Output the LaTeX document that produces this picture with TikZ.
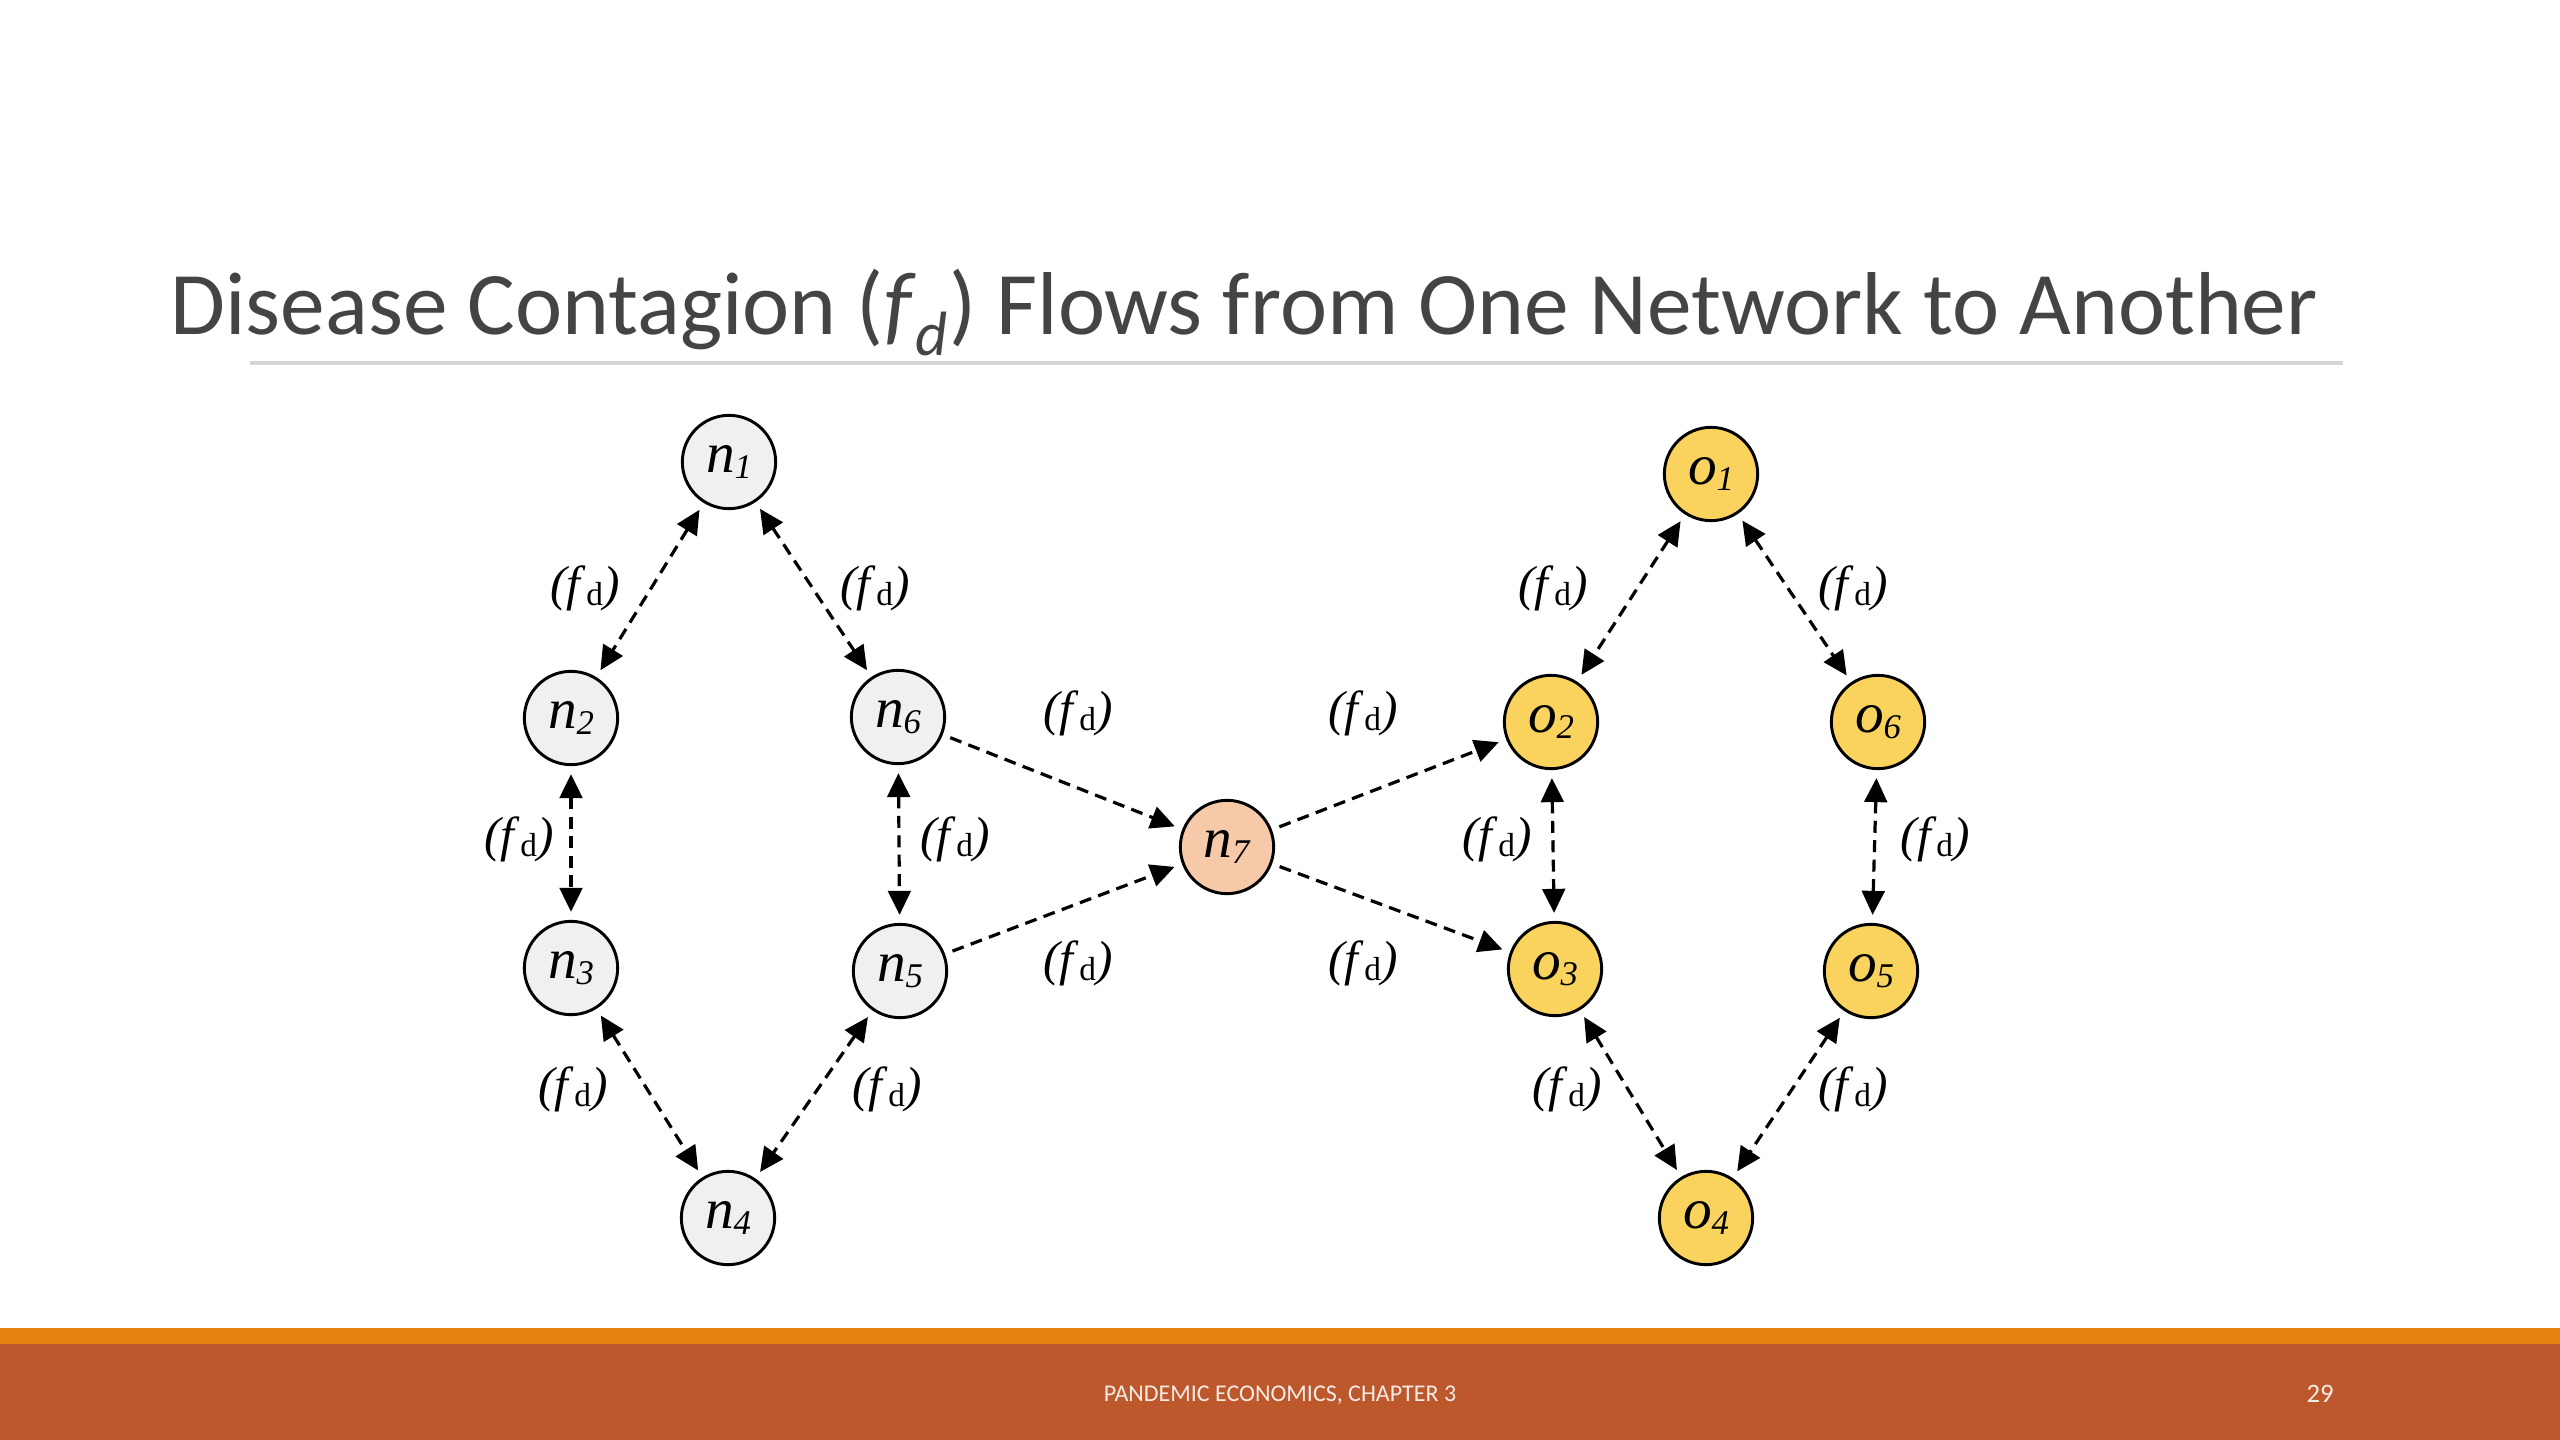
\documentclass[tikz,border=0pt]{standalone}
\usepackage{fontspec}
\setmainfont{Liberation Serif}
\newfontfamily\slidefont{Carlito}
\usetikzlibrary{arrows.meta}

\definecolor{SLDtitle}{HTML}{444444}
\definecolor{SLDrule}{HTML}{D4D4D4}
\definecolor{SLDorange}{HTML}{E48312}
\definecolor{SLDrust}{HTML}{BD582C}
\definecolor{NETgray}{HTML}{F0F0F0}
\definecolor{NETpeach}{HTML}{F6C9A9}
\definecolor{NETyellow}{HTML}{F9D35E}

\newcommand{\nodelab}[2]{\textit{#1}\raisebox{-2pt}{\fontsize{13}{13}\selectfont\textit{#2}}}
\newcommand{\fdlab}{\textit{(f}\raisebox{-2pt}{\fontsize{12.5}{12.5}\selectfont d}\textit{)}}

\begin{document}
\begin{tikzpicture}[x=0.375pt, y=-0.375pt,
   net/.style={circle, draw=black, line width=1.1pt, minimum size=35pt, inner sep=0pt, font=\fontsize{21.5}{21.5}\selectfont},
   flow/.style={line width=1.2pt, dash pattern=on 4.5pt off 2.8pt, shorten <=3pt, shorten >=3pt},
   twoway/.style={flow, {Triangle[length=9pt,width=8.5pt]}-{Triangle[length=9pt,width=8.5pt]}},
   oneway/.style={flow, -{Triangle[length=9pt,width=8.5pt]}},
   lbl/.style={font=\fontsize{18.5}{18.5}\selectfont, inner sep=0pt}]
      \useasboundingbox (0,0) rectangle (2560,1440);
      % Title and rule
      \node[anchor=base west, inner sep=0pt, text=SLDtitle, font=\slidefont\fontsize{33.5}{40}\selectfont] (title) at (170,335)
         {Disease Contagion (\textit{f}\textsubscript{\textit{d}}) Flows from One Network to Another};
      \draw[SLDrule, line width=1.2pt] (250,363) -- (2343,363);
      % Footer bands
      \fill[SLDorange] (0,1328) rectangle (2560,1344);
      \fill[SLDrust] (0,1344) rectangle (2560,1440);
      \node[anchor=base, text=white!88!SLDrust, font=\slidefont\fontsize{9}{10}\selectfont] (foot) at (1280,1401) {PANDEMIC ECONOMICS, CHAPTER 3};
      \node[anchor=base, text=white!88!SLDrust, font=\slidefont\fontsize{10}{10}\selectfont] (page) at (2320,1402) {29};
      % Network n
      \node[net, fill=NETgray] (n1) at (729,462) {\nodelab{n}{1}};
      \node[net, fill=NETgray] (n2) at (571,718) {\nodelab{n}{2}};
      \node[net, fill=NETgray] (n6) at (898,717) {\nodelab{n}{6}};
      \node[net, fill=NETgray] (n3) at (571,968) {\nodelab{n}{3}};
      \node[net, fill=NETgray] (n5) at (900,971) {\nodelab{n}{5}};
      \node[net, fill=NETgray] (n4) at (728,1218) {\nodelab{n}{4}};
      % Bridge node
      \node[net, fill=NETpeach] (n7) at (1227,847) {\nodelab{n}{7}};
      % Network o
      \node[net, fill=NETyellow] (o1) at (1711,474) {\nodelab{o}{1}};
      \node[net, fill=NETyellow] (o2) at (1551,722) {\nodelab{o}{2}};
      \node[net, fill=NETyellow] (o6) at (1878,722) {\nodelab{o}{6}};
      \node[net, fill=NETyellow] (o3) at (1555,969) {\nodelab{o}{3}};
      \node[net, fill=NETyellow] (o5) at (1871,971) {\nodelab{o}{5}};
      \node[net, fill=NETyellow] (o4) at (1706,1218) {\nodelab{o}{4}};
      % Flows inside n
      \draw[twoway] (n1) -- (n2);
      \draw[twoway] (n1) -- (n6);
      \draw[twoway] (n2) -- (n3);
      \draw[twoway] (n6) -- (n5);
      \draw[twoway] (n3) -- (n4);
      \draw[twoway] (n5) -- (n4);
      % Flows through n7
      \draw[oneway] (n6) -- (n7);
      \draw[oneway] (n5) -- (n7);
      \draw[oneway] (n7) -- (o2);
      \draw[oneway] (n7) -- (o3);
      % Flows inside o
      \draw[twoway] (o1) -- (o2);
      \draw[twoway] (o1) -- (o6);
      \draw[twoway] (o2) -- (o3);
      \draw[twoway] (o6) -- (o5);
      \draw[twoway] (o3) -- (o4);
      \draw[twoway] (o5) -- (o4);
      % Labels
      \node[lbl] (l12) at (585,588) {\fdlab};
      \node[lbl] (l16) at (875,588) {\fdlab};
      \node[lbl] (l23) at (519,839) {\fdlab};
      \node[lbl] (l65) at (955,839) {\fdlab};
      \node[lbl] (l34) at (573,1089) {\fdlab};
      \node[lbl] (l54) at (887,1089) {\fdlab};
      \node[lbl] (l67) at (1078,713) {\fdlab};
      \node[lbl] (l57) at (1078,963) {\fdlab};
      \node[lbl] (l7a) at (1363,713) {\fdlab};
      \node[lbl] (l7b) at (1363,963) {\fdlab};
      \node[lbl] (m12) at (1553,588) {\fdlab};
      \node[lbl] (m16) at (1853,588) {\fdlab};
      \node[lbl] (m23) at (1497,839) {\fdlab};
      \node[lbl] (m65) at (1935,839) {\fdlab};
      \node[lbl] (m34) at (1567,1089) {\fdlab};
      \node[lbl] (m54) at (1853,1089) {\fdlab};
   \end{tikzpicture}
\end{document}
